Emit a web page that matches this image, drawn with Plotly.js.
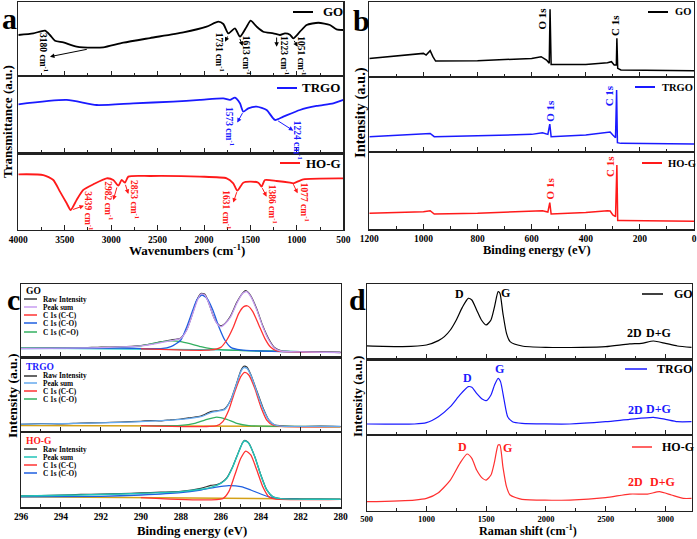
<!DOCTYPE html>
<html>
<head>
<meta charset="utf-8">
<script src="https://cdn.plot.ly/plotly-3.0.1.min.js"></script>
<style>body{margin:0;background:#fff}#chart{width:697px;height:539px}</style>
</head>
<body>
<div id="chart"></div>
<script>
var ftir_go_wn = [4000,3838,3713,3659,3605,3515,3372,3192,3085,2869,2582,2223,1972,1846,1792,1738,1667,1613,1541,1498,1433,1362,1254,1182,1128,1074,1038,967,895,769,644,572,500];
var ftir_go_t = [0.552,0.574,0.610,0.552,0.475,0.453,0.395,0.381,0.386,0.448,0.511,0.587,0.664,0.731,0.700,0.574,0.641,0.529,0.664,0.744,0.664,0.596,0.574,0.552,0.574,0.556,0.507,0.596,0.686,0.717,0.686,0.628,0.619];
var ftir_trgo_wn = [4000,3479,3156,2762,2331,2044,1792,1720,1667,1613,1577,1523,1433,1326,1236,1146,967,787,608,500];
var ftir_trgo_t = [0.634,0.690,0.625,0.647,0.668,0.690,0.711,0.690,0.720,0.647,0.539,0.582,0.603,0.560,0.431,0.474,0.560,0.612,0.647,0.690];
var ftir_hog_wn = [4000,3731,3623,3551,3479,3436,3372,3300,3192,3049,2977,2923,2887,2851,2815,2582,2044,1756,1685,1642,1577,1505,1415,1380,1344,1218,1074,1038,931,500];
var ftir_hog_t = [0.726,0.717,0.652,0.5,0.348,0.261,0.391,0.522,0.596,0.674,0.652,0.578,0.652,0.617,0.696,0.704,0.696,0.674,0.609,0.513,0.617,0.630,0.617,0.565,0.652,0.639,0.617,0.609,0.661,0.674];

// (b) XPS survey
var xps_go_be = [1200,1000,990,975,965,955,800,600,565,545,535,532,528,400,320,305,295,287,285,282,270,100,0];
var xps_go_i = [0.244,0.311,0.289,0.347,0.267,0.209,0.213,0.244,0.267,0.222,0.178,0.898,0.164,0.164,0.187,0.2,0.156,0.156,0.511,0.111,0.089,0.089,0.08];
var xps_trgo_be = [1200,1000,975,960,800,600,560,540,533,528,400,320,310,300,290,286,283,270,0];
var xps_trgo_i = [0.2,0.231,0.244,0.2,0.213,0.231,0.253,0.231,0.369,0.2,0.222,0.253,0.262,0.222,0.187,0.822,0.12,0.111,0.102];
var xps_hog_be = [1200,1000,975,960,800,600,560,540,533,528,400,320,310,300,290,285,282,270,0];
var xps_hog_i = [0.206,0.227,0.240,0.197,0.206,0.227,0.240,0.223,0.343,0.197,0.215,0.240,0.236,0.185,0.163,0.828,0.112,0.112,0.103];

// (c) C 1s high resolution
var c_go_bg_be = [296,290,286,284,280];
var c_go_bg = [0.127,0.114,0.1,0.086,0.068];
var c_go_raw_be = [296,295,294,293,292,291,290,289.5,289,288.5,288,287.7,287.4,287.2,287.0,286.8,286.6,286.4,286.2,286.0,285.8,285.5,285.2,284.9,284.75,284.5,284.2,283.9,283.6,283.3,283.0,282,281,280];
var c_go_raw = [0.12,0.125,0.13,0.128,0.14,0.142,0.16,0.18,0.21,0.235,0.265,0.38,0.61,0.78,0.87,0.86,0.74,0.58,0.47,0.43,0.46,0.57,0.75,0.88,0.91,0.84,0.66,0.43,0.25,0.13,0.09,0.07,0.072,0.065];
var c_go_sum_be = [296,292,290,289,288.5,288,287.7,287.4,287.2,287.0,286.8,286.6,286.4,286.2,286.0,285.8,285.5,285.2,284.9,284.7,284.5,284.2,283.9,283.6,283.3,283.0,282,280];
var c_go_sum = [0.123,0.132,0.155,0.2,0.227,0.259,0.373,0.6,0.759,0.864,0.85,0.736,0.577,0.464,0.418,0.455,0.555,0.736,0.873,0.895,0.827,0.645,0.418,0.236,0.123,0.086,0.073,0.064];
var c_go_cc_be = [290,286.5,286,285.7,285.4,285.1,284.85,284.65,284.4,284.1,283.8,283.5,283.2,282.5,280];
var c_go_cc = [0.114,0.1,0.136,0.236,0.395,0.6,0.691,0.7,0.623,0.441,0.259,0.136,0.086,0.073,0.068];
var c_go_co_be = [296,291,289,288.5,288,287.7,287.4,287.2,286.95,286.7,286.4,286.1,285.8,285.5,285.0,284,282,280];
var c_go_co = [0.118,0.127,0.118,0.145,0.236,0.418,0.645,0.782,0.85,0.805,0.645,0.418,0.236,0.136,0.1,0.086,0.073,0.068];
var c_go_cdo_be = [296,291,290,289.5,289,288.5,288,287.5,287,286.5,286,284,280];
var c_go_cdo = [0.127,0.136,0.155,0.182,0.209,0.223,0.214,0.182,0.145,0.118,0.105,0.086,0.068];

var c_trgo_bg_be = [296,290,286,284,280];
var c_trgo_bg = [0.085,0.081,0.076,0.072,0.067];
var c_trgo_raw_be = [296,295,294,293,292,291,290,289.5,289,288.5,288,287.5,287,286.5,286.2,285.8,285.5,285.2,285.0,284.85,284.7,284.5,284.2,283.9,283.6,283.3,283,282,281,280];
var c_trgo_raw = [0.10,0.11,0.105,0.115,0.12,0.13,0.14,0.15,0.145,0.16,0.17,0.19,0.21,0.27,0.28,0.31,0.43,0.66,0.82,0.88,0.87,0.77,0.55,0.33,0.16,0.09,0.08,0.07,0.075,0.07];
var c_trgo_sum_be = [296,293,291,289,288,287,286.5,286.2,285.8,285.5,285.2,285.0,284.85,284.7,284.5,284.2,283.9,283.6,283.3,283.0,280];
var c_trgo_sum = [0.103,0.112,0.126,0.148,0.166,0.202,0.256,0.274,0.3,0.426,0.65,0.807,0.861,0.852,0.762,0.538,0.314,0.157,0.09,0.076,0.072];
var c_trgo_cc_be = [290,286.2,285.9,285.6,285.3,285.0,284.8,284.6,284.3,284.0,283.7,283.4,283.0,280];
var c_trgo_cc = [0.081,0.081,0.135,0.291,0.538,0.74,0.798,0.762,0.583,0.336,0.157,0.09,0.072,0.067];
var c_trgo_co_be = [290,288,287.3,286.8,286.2,285.7,285.2,284.6,283,280];
var c_trgo_co = [0.081,0.085,0.112,0.157,0.197,0.166,0.112,0.081,0.072,0.067];

var c_hog_bg_be = [296,290,286,284,280];
var c_hog_bg = [0.141,0.128,0.119,0.11,0.106];
var c_hog_raw_be = [296,295,294,293,292,291,290,289,288,287,286.5,286.2,286,285.7,285.4,285.1,284.9,284.8,284.6,284.3,284.0,283.7,283.4,283,282,281,280];
var c_hog_raw = [0.15,0.155,0.16,0.17,0.175,0.18,0.19,0.2,0.21,0.25,0.29,0.3,0.32,0.39,0.54,0.74,0.86,0.885,0.85,0.67,0.43,0.23,0.14,0.115,0.11,0.11,0.105];
var c_hog_sum_be = [296,293,291,289,288,287,286.5,286.0,285.7,285.4,285.1,284.9,284.8,284.6,284.3,284.0,283.7,283.4,283.0,280];
var c_hog_sum = [0.15,0.163,0.176,0.194,0.207,0.238,0.264,0.317,0.383,0.537,0.736,0.855,0.881,0.846,0.67,0.427,0.229,0.141,0.115,0.106];
var c_hog_cc_be = [290,285.9,285.6,285.3,285.0,284.75,284.5,284.2,283.9,283.6,283.3,280];
var c_hog_cc = [0.128,0.115,0.207,0.427,0.648,0.744,0.692,0.493,0.273,0.141,0.11,0.106];
var c_hog_co_be = [296,292,290,288,287,286.3,285.6,285.0,284.5,284.0,283.5,283.0,280];
var c_hog_co = [0.137,0.145,0.163,0.194,0.229,0.264,0.286,0.273,0.229,0.176,0.132,0.11,0.106];

// (d) Raman
var raman_go_x = [500,800,1000,1100,1150,1200,1250,1300,1350,1380,1420,1460,1500,1540,1570,1600,1615,1640,1670,1700,1800,2000,2300,2500,2700,2800,2900,3000,3100,3220];
var raman_go_y = [0.177,0.168,0.19,0.248,0.301,0.389,0.522,0.69,0.81,0.788,0.655,0.522,0.456,0.522,0.699,0.898,0.876,0.611,0.345,0.235,0.177,0.159,0.159,0.168,0.204,0.212,0.243,0.212,0.177,0.159];
var raman_trgo_x = [500,900,1000,1100,1200,1280,1350,1380,1420,1470,1500,1540,1570,1600,1620,1650,1680,1720,1800,2200,2500,2700,2900,3000,3100,3220];
var raman_trgo_y = [0.145,0.145,0.163,0.242,0.374,0.529,0.639,0.63,0.551,0.471,0.454,0.529,0.661,0.749,0.705,0.463,0.242,0.176,0.154,0.145,0.176,0.207,0.233,0.207,0.176,0.176];
var raman_hog_x = [500,900,1000,1100,1200,1280,1340,1380,1420,1470,1500,1540,1570,1600,1615,1640,1670,1700,1800,2200,2500,2700,2850,2950,3050,3150,3220];
var raman_hog_y = [0.119,0.141,0.163,0.238,0.405,0.626,0.749,0.692,0.537,0.427,0.405,0.471,0.648,0.868,0.868,0.581,0.317,0.207,0.15,0.141,0.172,0.22,0.22,0.251,0.207,0.163,0.163];

var BLUE = '#1a1aff', RED = '#ff1a1a', BLACK = '#000000';
var SERIF = 'Liberation Serif';

function px(x){ return x/697; }
function py(y){ return 1 - y/539; }
function fnt(size, color){ return {family:SERIF, size:size, color:color||BLACK, weight:'bold'}; }

var traces = [];
function line(x, y, n, color, width, shape){
    traces.push({x:x, y:y, xaxis:'x'+(n==1?'':n), yaxis:'y'+(n==1?'':n), type:'scatter', mode:'lines',
        line:{color:color, width:width, shape:shape||'linear', smoothing:0.6}, hoverinfo:'skip'});
}

line(ftir_go_wn, ftir_go_t, 1, BLACK, 1.8, 'spline');
line(ftir_trgo_wn, ftir_trgo_t, 2, BLUE, 1.8, 'spline');
line(ftir_hog_wn, ftir_hog_t, 3, RED, 1.8, 'spline');

line(xps_go_be, xps_go_i, 4, BLACK, 1.5);
line(xps_trgo_be, xps_trgo_i, 5, BLUE, 1.5);
line(xps_hog_be, xps_hog_i, 6, RED, 1.5);

line(c_go_bg_be, c_go_bg, 7, '#20c8c8', 1.3);
line(c_go_raw_be, c_go_raw, 7, '#333333', 1.2, 'spline');
line(c_go_cdo_be, c_go_cdo, 7, '#33b060', 1.3, 'spline');
line(c_go_co_be, c_go_co, 7, '#1f5fe0', 1.3, 'spline');
line(c_go_cc_be, c_go_cc, 7, '#ff3333', 1.3, 'spline');
line(c_go_sum_be, c_go_sum, 7, '#c79cf0', 1.3, 'spline');

line(c_trgo_bg_be, c_trgo_bg, 8, '#d4a017', 1.5);
line(c_trgo_raw_be, c_trgo_raw, 8, '#333333', 1.2, 'spline');
line(c_trgo_co_be, c_trgo_co, 8, '#33b060', 1.3, 'spline');
line(c_trgo_cc_be, c_trgo_cc, 8, '#ff3333', 1.3, 'spline');
line(c_trgo_sum_be, c_trgo_sum, 8, '#66aaee', 1.3, 'spline');

line(c_hog_bg_be, c_hog_bg, 9, '#d4a017', 1.5);
line(c_hog_raw_be, c_hog_raw, 9, '#333333', 1.2, 'spline');
line(c_hog_co_be, c_hog_co, 9, '#1f5fe0', 1.3, 'spline');
line(c_hog_cc_be, c_hog_cc, 9, '#ff3333', 1.3, 'spline');
line(c_hog_sum_be, c_hog_sum, 9, '#22c4b8', 1.4, 'spline');

line(raman_go_x, raman_go_y, 10, BLACK, 1.2, 'spline');
line(raman_trgo_x, raman_trgo_y, 11, BLUE, 1.2, 'spline');
line(raman_hog_x, raman_hog_y, 12, '#ff3030', 1.2, 'spline');

var layout = {
    width:697, height:539, margin:{l:0, r:0, t:0, b:0},
    paper_bgcolor:'#ffffff', plot_bgcolor:'#ffffff', showlegend:false,
    shapes:[], annotations:[]
};

// panel geometry in page pixels
var panels = [
    {x0:18.3, x1:343.3, rows:[1.7,76,153.3,230], range:[4000,500], dtick:500, minor:250, first:1, tf:9.5},
    {x0:369.3, x1:694, rows:[1.7,76.7,151.7,229.3], range:[1200,0], dtick:200, minor:100, first:4, tf:9.5},
    {x0:21, x1:340.7, rows:[284,357.3,431.7,507.3], range:[296,280], dtick:2, minor:1, first:7, tf:9.5},
    {x0:366.7, x1:691.7, rows:[284,359.3,435,510.7], range:[500,3220], dtick:500, minor:250, first:10, tf:8.5}
];
panels.forEach(function(p){
    for (var r = 0; r < 3; r++){
        var n = p.first + r;
        var xk = 'xaxis'+(n==1?'':n), yk = 'yaxis'+(n==1?'':n);
        layout[xk] = {
            domain:[px(p.x0), px(p.x1)], range:p.range, anchor:'y'+(n==1?'':n),
            showline:true, mirror:true, linecolor:'#222', linewidth:1.2,
            ticks:'inside', ticklen:5, tickwidth:1, tickcolor:'#222', dtick:p.dtick, tick0:0,
            minor:{ticks:'inside', ticklen:3, dtick:p.minor, tickcolor:'#222'},
            showgrid:false, zeroline:false, showticklabels:(r==2), tickfont:fnt(p.tf)
        };
        layout[yk] = {
            domain:[py(p.rows[r+1]), py(p.rows[r])], range:[0,1], anchor:'x'+(n==1?'':n),
            showline:true, mirror:true, linecolor:'#222', linewidth:1.2,
            ticks:'', showticklabels:false, showgrid:false, zeroline:false
        };
    }
});

function txt(x, y, s, f, opt){
    var a = {xref:'paper', yref:'paper', x:px(x), y:py(y), text:s, showarrow:false, font:f, xanchor:'center', yanchor:'middle'};
    for (var k in opt) a[k] = opt[k];
    layout.annotations.push(a);
}
function dtxt(n, x, y, s, f, angle){
    var s2 = (n==1?'':n);
    layout.annotations.push({xref:'x'+s2, yref:'y'+s2, x:x, y:y, text:s, showarrow:false, font:f, textangle:angle||0});
}
function arrow(n, hx, hy, tx, ty, color){
    var s2 = (n==1?'':n);
    layout.annotations.push({xref:'x'+s2, yref:'y'+s2, axref:'x'+s2, ayref:'y'+s2, x:hx, y:hy, ax:tx, ay:ty,
        text:'', showarrow:true, arrowhead:2, arrowsize:0.9, arrowwidth:1, arrowcolor:color});
}
function leg(x0, x1, y, tx, label, color, size, w){
    layout.shapes.push({type:'line', xref:'paper', yref:'paper', x0:px(x0), x1:px(x1), y0:py(y), y1:py(y), line:{color:color, width:w||2}});
    txt(tx, y, label, fnt(size), {xanchor:'left'});
}

// panel letters
txt(9, 0, 'a', fnt(30), {yanchor:'top'});
txt(361, 2, 'b', fnt(30), {yanchor:'top'});
txt(13, 281, 'c', fnt(30), {yanchor:'top'});
txt(357, 281, 'd', fnt(30), {yanchor:'top'});

// axis titles
txt(8, 122, 'Transmittance (a.u.)', fnt(13), {textangle:-90});
txt(187, 250, 'Wavenumbers (cm<sup>-1</sup>)', fnt(13));
txt(360, 113, 'Intensity (a.u.)', fnt(14.5), {textangle:-90});
txt(537, 250, 'Binding energy (eV)', fnt(12.5));
txt(12, 396, 'Intensity (a.u.)', fnt(13.5), {textangle:-90});
txt(192, 531, 'Binding energy (eV)', fnt(12.8));
txt(357, 397, 'Intensity (a.u.)', fnt(13), {textangle:-90});
txt(528, 530, 'Raman shift (cm<sup>-1</sup>)', fnt(12.2));

// (a) legends and band labels
leg(293, 313, 12, 321, 'GO', BLACK, 13);
leg(277, 297, 88, 300, 'TRGO', BLUE, 13);
leg(280, 300, 163, 304, 'HO-G', RED, 13);
var cm = ' cm<sup>-1</sup>';
dtxt(1, 3731, 0.318, '3180'+cm, fnt(9.5), 90);  arrow(1, 3659, 0.26, 3246, 0.363, BLACK);
dtxt(1, 1828, 0.314, '1731'+cm, fnt(9.5), 90);  arrow(1, 1774, 0.462, 1738, 0.552, BLACK);
dtxt(1, 1534, 0.283, '1613'+cm, fnt(9.5), 90);  arrow(1, 1584, 0.404, 1620, 0.520, BLACK);
dtxt(1, 1128, 0.269, '1223'+cm, fnt(9.5), 90);  arrow(1, 1218, 0.395, 1218, 0.538, BLACK);
dtxt(1, 948, 0.269, '1051'+cm, fnt(9.5), 90);   arrow(1, 992, 0.395, 1038, 0.493, BLACK);
dtxt(2, 1713, 0.345, '1573'+cm, fnt(9.5, BLUE), 90);  arrow(2, 1642, 0.397, 1577, 0.539, BLUE);
dtxt(2, 985, 0.172, '1224'+cm, fnt(9.5, BLUE), 90);   arrow(2, 1038, 0.293, 1218, 0.431, BLUE);
dtxt(3, 3235, 0.252, '3439'+cm, fnt(9.5, RED), 90);  arrow(3, 3293, 0.317, 3426, 0.261, RED);
dtxt(3, 3020, 0.383, '2982'+cm, fnt(9.5, RED), 90);  arrow(3, 2977, 0.391, 2934, 0.574, RED);
dtxt(3, 2744, 0.391, '2853'+cm, fnt(9.5, RED), 90);  arrow(3, 2815, 0.47, 2851, 0.609, RED);
dtxt(3, 1756, 0.261, '1631'+cm, fnt(9.5, RED), 90);  arrow(3, 1685, 0.357, 1642, 0.513, RED);
dtxt(3, 1254, 0.339, '1386'+cm, fnt(9.5, RED), 90);  arrow(3, 1326, 0.435, 1380, 0.565, RED);
dtxt(3, 913, 0.357, '1077'+cm, fnt(9.5, RED), 90);   arrow(3, 992, 0.478, 1046, 0.617, RED);

// (b) legends and peak labels
leg(648, 668, 12, 673, 'GO', BLACK, 10.5);
leg(635, 655, 87, 660, 'TRGO', BLUE, 10.5);
leg(642, 662, 163, 666, 'HO-G', RED, 10.5);
dtxt(4, 561, 0.778, 'O 1s', fnt(11), -90);
dtxt(4, 292, 0.689, 'C 1s', fnt(11), -90);
dtxt(5, 532, 0.547, 'O 1s', fnt(11, BLUE), -90);
dtxt(5, 313, 0.742, 'C 1s', fnt(11, BLUE), -90);
dtxt(6, 532, 0.528, 'O 1s', fnt(11, RED), -90);
dtxt(6, 313, 0.807, 'C 1s', fnt(11, RED), -90);

// (c) small legend boxes
txt(24, 291, 'GO', fnt(9.5), {xanchor:'left'});
leg(24, 37, 299, 41, 'Raw Intensity', '#333333', 7.3, 1.5);
leg(24, 37, 307, 41, 'Peak sum', '#c79cf0', 7.3, 1.5);
leg(24, 37, 315, 41, 'C 1s (C-C)', '#ff3333', 7.3, 1.5);
leg(24, 37, 323, 41, 'C 1s (C-O)', '#1f5fe0', 7.3, 1.5);
leg(24, 37, 332, 41, 'C 1s (C=O)', '#33b060', 7.3, 1.5);
txt(24, 367, 'TRGO', fnt(9.5, BLUE), {xanchor:'left'});
leg(24, 37, 376, 41, 'Raw Intensity', '#333333', 7.3, 1.5);
leg(24, 37, 383, 41, 'Peak sum', '#66aaee', 7.3, 1.5);
leg(24, 37, 391, 41, 'C 1s (C-C)', '#ff3333', 7.3, 1.5);
leg(24, 37, 399, 41, 'C 1s (C-O)', '#33b060', 7.3, 1.5);
txt(24, 441, 'HO-G', fnt(9.5, RED), {xanchor:'left'});
leg(24, 37, 449, 41, 'Raw Intensity', '#333333', 7.3, 1.5);
leg(24, 37, 457, 41, 'Peak sum', '#22c4b8', 7.3, 1.5);
leg(24, 37, 465, 41, 'C 1s (C-C)', '#ff3333', 7.3, 1.5);
leg(24, 37, 473, 41, 'C 1s (C-O)', '#1f5fe0', 7.3, 1.5);

// (d) legends and band labels
leg(642, 663, 294, 672, 'GO', BLACK, 12, 1.5);
leg(625, 647, 369, 655, 'TRGO', BLUE, 12, 1.5);
leg(632, 652, 447, 660, 'HO-G', '#ff3030', 12, 1.5);
dtxt(10, 1277, 0.867, 'D', fnt(12));   dtxt(10, 1659, 0.876, 'G', fnt(12));
dtxt(10, 2740, 0.345, '2D', fnt(12));  dtxt(10, 2944, 0.354, 'D+G', fnt(12));
dtxt(11, 1346, 0.749, 'D', fnt(12, BLUE));  dtxt(11, 1612, 0.868, 'G', fnt(12, BLUE));
dtxt(11, 2749, 0.33, '2D', fnt(12, BLUE));  dtxt(11, 2944, 0.339, 'D+G', fnt(12, BLUE));
dtxt(12, 1304, 0.837, 'D', fnt(12, RED));   dtxt(12, 1679, 0.828, 'G', fnt(12, RED));
dtxt(12, 2749, 0.379, '2D', fnt(12, RED));  dtxt(12, 2972, 0.379, 'D+G', fnt(12, RED));

Plotly.newPlot('chart', traces, layout, {staticPlot:true, displayModeBar:false});
</script>
</body>
</html>
